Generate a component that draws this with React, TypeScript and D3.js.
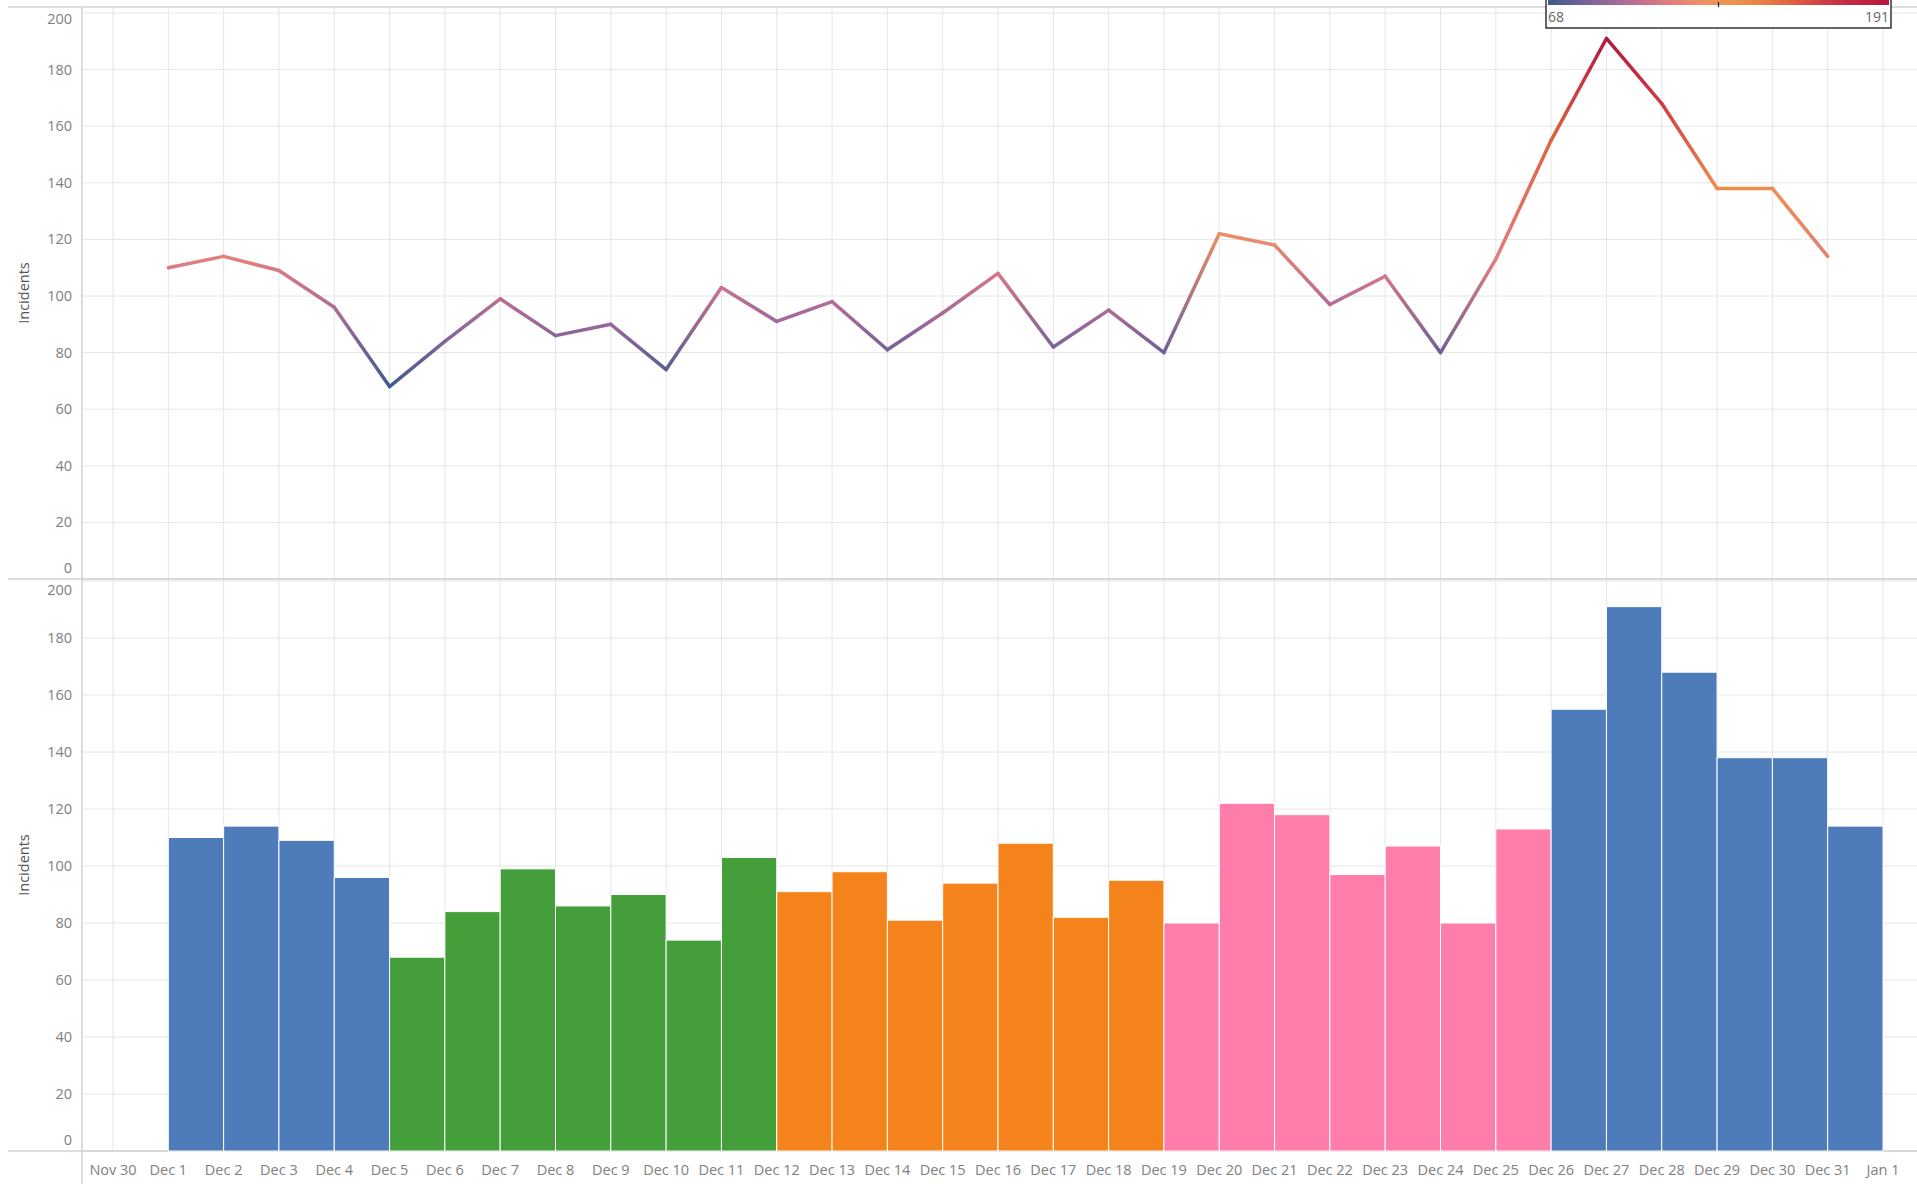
import { interpolateRgbBasis, scaleLinear, scaleSequential, scaleUtc, timeFormat, utcDay, utcMonday } from 'd3';

const days: string[] = [
  '2016-12-01', '2016-12-02', '2016-12-03', '2016-12-04', '2016-12-05', '2016-12-06', '2016-12-07',
  '2016-12-08', '2016-12-09', '2016-12-10', '2016-12-11', '2016-12-12', '2016-12-13', '2016-12-14',
  '2016-12-15', '2016-12-16', '2016-12-17', '2016-12-18', '2016-12-19', '2016-12-20', '2016-12-21',
  '2016-12-22', '2016-12-23', '2016-12-24', '2016-12-25', '2016-12-26', '2016-12-27', '2016-12-28',
  '2016-12-29', '2016-12-30', '2016-12-31',
];

const incidents: number[] = [
  110, 114, 109, 96, 68, 84, 99, 86, 90, 74, 103, 91, 98, 81, 94, 108,
  82, 95, 80, 122, 118, 97, 107, 80, 113, 155, 191, 168, 138, 138, 114,
];

// week (Monday start) -> bar colour
const weekStarts: string[] = ['2016-11-28', '2016-12-05', '2016-12-12', '2016-12-19', '2016-12-26'];
const weekColors: string[] = ['#4e7bb9', '#449f3b', '#f5831b', '#ff7dab', '#4e7bb9'];

const yTicks: number[] = [0, 20, 40, 60, 80, 100, 120, 140, 160, 180, 200];
const gradientStops: string[] = ['#3f5b8c', '#9366a2', '#e6728a', '#f2a250', '#e8773f', '#c92f45', '#b5173f'];

const W = 1917;
const H = 1184;
const axisX = 82;
const font = '"Open Sans", sans-serif';

const parse = (s: string) => new Date(s + 'T00:00:00Z');
const fmt = timeFormat('%b %-d');
const fmtUtc = (d: Date) => fmt(new Date(d.getUTCFullYear(), d.getUTCMonth(), d.getUTCDate()));

const x = scaleUtc().domain([parse('2016-11-30'), parse('2017-01-01')]).range([113, 1883]);
const yTop = scaleLinear().domain([0, 200]).range([579, 13]);
const yBot = scaleLinear().domain([0, 200]).range([1151, 581]);

const minV = Math.min(...incidents);
const maxV = Math.max(...incidents);
const color = scaleSequential(interpolateRgbBasis(gradientStops)).domain([minV, maxV]);

const dayTicks = utcDay.range(parse('2016-11-30'), utcDay.offset(parse('2017-01-01'), 1));

const weekColor = (d: Date) => {
  const wk = utcMonday.floor(d).getTime();
  const i = weekStarts.findIndex((s) => parse(s).getTime() === wk);
  return weekColors[i];
};

// Tableau nudges the end labels inside the pane
const labelShift = (t: number, isTop: boolean) => {
  if (t === 0) return -11;
  if (t === 200) return isTop ? 6 : 9;
  return 0;
};

const Grid = ({ y, top, bottom, isTop }: { y: typeof yTop; top: number; bottom: number; isTop: boolean }) => (
  <g>
    {dayTicks.map((d) => (
      <line key={`v-${d.getTime()}`} x1={x(d)} x2={x(d)} y1={top} y2={bottom} stroke="#e6e6e6" />
    ))}
    {yTicks.map((t) => (
      <g key={`h-${t}`}>
        <line x1={axisX} x2={W} y1={y(t)} y2={y(t)} stroke="#e6e6e6" />
        <text
          x={72}
          y={y(t) + labelShift(t, isTop)}
          dy="0.35em"
          textAnchor="end"
          fontSize={14.5}
          fill="#808080"
          fontFamily={font}
        >
          {t}
        </text>
      </g>
    ))}
    <text
      transform={`translate(29, ${(top + bottom) / 2}) rotate(-90)`}
      textAnchor="middle"
      fontSize={14.5}
      fill="#555"
      fontFamily={font}
    >
      Incidents
    </text>
  </g>
);

const Line = () => {
  const pts = days.map((d, i) => ({ px: x(parse(d)), py: yTop(incidents[i]), v: incidents[i] }));
  return (
    <g>
      <defs>
        {pts.slice(1).map((p, i) => (
          <linearGradient
            key={`g-${i}`}
            id={`seg-${i}`}
            gradientUnits="userSpaceOnUse"
            x1={pts[i].px}
            y1={pts[i].py}
            x2={p.px}
            y2={p.py}
          >
            <stop offset="0%" stopColor={color(pts[i].v)} />
            <stop offset="100%" stopColor={color(p.v)} />
          </linearGradient>
        ))}
      </defs>
      {pts.slice(1).map((p, i) => (
        <line
          key={`s-${i}`}
          x1={pts[i].px}
          y1={pts[i].py}
          x2={p.px}
          y2={p.py}
          stroke={`url(#seg-${i})`}
          strokeWidth={3.5}
          strokeLinecap="round"
        />
      ))}
    </g>
  );
};

const Bars = () => (
  <g>
    {days.map((d, i) => {
      const start = parse(d);
      const x0 = x(start);
      const x1 = x(utcDay.offset(start, 1));
      return (
        <rect
          key={`bar-${d}`}
          x={x0}
          y={yBot(incidents[i])}
          width={x1 - x0}
          height={yBot(0) - yBot(incidents[i])}
          fill={weekColor(start)}
          stroke="#ffffff"
          strokeWidth={1}
        />
      );
    })}
  </g>
);

const Legend = () => {
  const lx0 = 1546;
  const lx1 = 1891;
  const grad = scaleLinear().domain([0, 1]).range([minV, maxV]);
  const stops = Array.from({ length: 21 }, (_, i) => i / 20);
  return (
    <g>
      <defs>
        <linearGradient id="legend-grad" x1="0" x2="1" y1="0" y2="0">
          {stops.map((s) => (
            <stop key={s} offset={`${s * 100}%`} stopColor={color(grad(s))} />
          ))}
        </linearGradient>
      </defs>
      <rect x={lx0} y={-3} width={lx1 - lx0} height={31} fill="#ffffff" stroke="#333" strokeWidth={1.5} />
      <rect x={lx0 + 2} y={0} width={lx1 - lx0 - 4} height={5} fill="url(#legend-grad)" />
      <line x1={(lx0 + lx1) / 2} x2={(lx0 + lx1) / 2} y1={2} y2={7} stroke="#222" strokeWidth={1.2} />
      <text x={lx0 + 2} y={22} fontSize={14} fill="#666" fontFamily={font}>
        {minV}
      </text>
      <text x={lx1 - 2} y={22} fontSize={14} fill="#666" fontFamily={font} textAnchor="end">
        {maxV}
      </text>
    </g>
  );
};

export default function App() {
  return (
    <svg
      width={W}
      height={H}
      style={{ position: 'absolute', left: 0, top: 0, display: 'block', background: '#fff' }}
    >
      <Grid y={yTop} top={7} bottom={579} isTop />
      <Grid y={yBot} top={579} bottom={1151} isTop={false} />
      {/* panel borders */}
      <line x1={8} x2={W} y1={7} y2={7} stroke="#d0d0d0" strokeWidth={1.5} />
      <line x1={8} x2={W} y1={579} y2={579} stroke="#cfcfcf" strokeWidth={1.5} />
      <line x1={8} x2={W} y1={1151} y2={1151} stroke="#cfcfcf" strokeWidth={1.5} />
      <line x1={axisX} x2={axisX} y1={7} y2={H} stroke="#d0d0d0" strokeWidth={1.5} />
      <Line />
      <Bars />
      <Legend />
      {dayTicks.map((d) => (
        <text
          key={`xl-${d.getTime()}`}
          x={x(d)}
          y={1170}
          dy="0.35em"
          textAnchor="middle"
          fontSize={14.5}
          fill="#808080"
          fontFamily={font}
        >
          {fmtUtc(d)}
        </text>
      ))}
    </svg>
  );
}
